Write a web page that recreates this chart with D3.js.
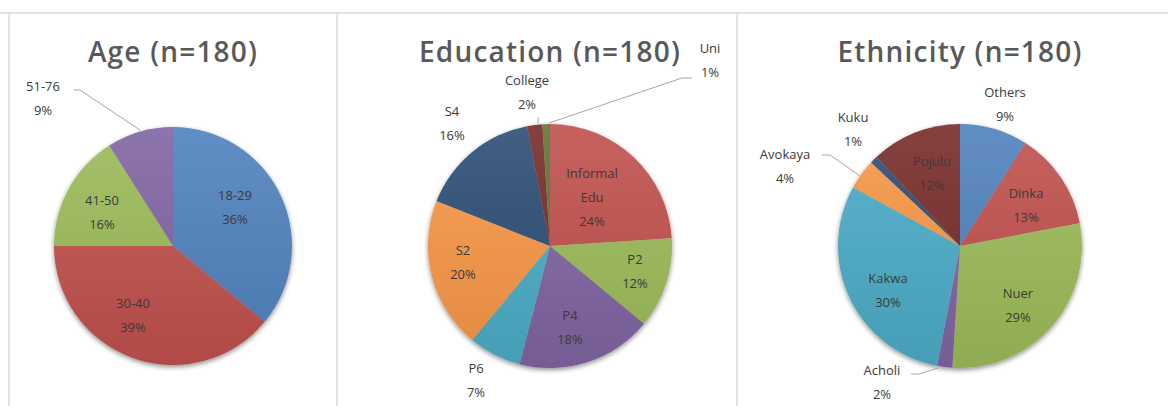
<!DOCTYPE html>
<html>
<head>
<meta charset="utf-8">
<style>
  body { margin: 0; background: #fff; }
  svg text { font-family: "Open Sans", "Noto Sans", sans-serif; }
  .title { font-size: 28px; font-weight: 600; letter-spacing: 1.2px; fill: #595959; text-anchor: middle; }
  .lbl { font-size: 13px; fill: #3a3a3a; text-anchor: middle; }
  .frame { stroke: #e2e2e2; stroke-width: 2px; }
  .leader { stroke: #a6a6a6; stroke-width: 1px; fill: none; }
</style>
</head>
<body>
<div id="chart"></div>
<script src="https://cdn.jsdelivr.net/npm/d3@7"></script>
<script>
// ---- data ----
var ageCats = ["18-29", "30-40", "41-50", "51-76"];
var ageVals = [36, 39, 16, 9];
var ageCols = ["#4f81bd", "#c0504d", "#9bbb59", "#8064a2"];

// first Excel series slot (blue) holds 0 in the source, so it is left out
var eduCats = ["Informal Edu", "P2", "P4", "P6", "S2", "S4", "College", "Uni"];
var eduVals = [24, 12, 18, 7, 20, 16, 2, 1];
var eduCols = ["#c0504d", "#9bbb59", "#8064a2", "#4bacc6", "#f79646", "#2c4d75", "#772c2a", "#5f7530"];

var ethCats = ["Others", "Dinka", "Nuer", "Acholi", "Kakwa", "Avokaya", "Kuku", "Pojulu"];
var ethVals = [9, 13, 29, 2, 30, 4, 1, 12];
var ethCols = ["#4f81bd", "#c0504d", "#9bbb59", "#8064a2", "#4bacc6", "#f79646", "#2c4d75", "#772c2a"];

var W = 1168, H = 406;

var svg = d3.select("#chart").append("svg")
    .attr("width", W)
    .attr("height", H);

var defs = svg.append("defs");

// soft drop shadow under each pie
var f = defs.append("filter").attr("id", "shadow")
    .attr("x", "-20%").attr("y", "-20%").attr("width", "140%").attr("height", "140%");
f.append("feGaussianBlur").attr("in", "SourceAlpha").attr("stdDeviation", 2.5).attr("result", "b");
f.append("feOffset").attr("in", "b").attr("dx", 0).attr("dy", 2).attr("result", "o");
f.append("feComponentTransfer").attr("in", "o").attr("result", "s")
  .append("feFuncA").attr("type", "linear").attr("slope", 0.45);
var fm = f.append("feMerge");
fm.append("feMergeNode").attr("in", "s");
fm.append("feMergeNode").attr("in", "SourceGraphic");

// panel frames
svg.append("line").classed("frame", true).attr("x1", 0).attr("x2", W).attr("y1", 13).attr("y2", 13);
[9, 337, 737].forEach(function (x) {
  svg.append("line").classed("frame", true)
    .attr("x1", x).attr("x2", x).attr("y1", 13).attr("y2", H);
});

function drawPie(opt) {
  var g = svg.append("g").attr("transform", "translate(" + opt.cx + "," + opt.cy + ")");

  g.append("text").classed("title", true)
    .attr("x", 0)
    .attr("y", 52 - opt.cy + 10)
    .text(opt.title);

  var items = opt.cats.map(function (c, i) {
    return { cat: c, val: opt.vals[i], col: opt.cols[i], i: i };
  });

  var pie = d3.pie().sort(null).value(function (d) { return d.val; });
  var arc = d3.arc().innerRadius(0).outerRadius(opt.r);
  var arcs = pie(items);

  // per-slice vertical gradients, lighter on top (group coords)
  arcs.forEach(function (a) {
    var gr = defs.append("linearGradient")
        .attr("id", opt.id + "g" + a.data.i)
        .attr("gradientUnits", "userSpaceOnUse")
        .attr("x1", 0).attr("y1", -opt.r)
        .attr("x2", 0).attr("y2", opt.r);
    gr.append("stop").attr("offset", "0%").attr("stop-color", d3.interpolateRgb(a.data.col, "#fff")(0.1));
    gr.append("stop").attr("offset", "100%").attr("stop-color", d3.interpolateRgb(a.data.col, "#000")(0.08));
  });

  var pg = g.append("g").attr("filter", "url(#shadow)");
  pg.selectAll("path")
    .data(arcs)
    .enter().append("path")
      .attr("d", arc)
      .attr("fill", function (d) { return "url(#" + opt.id + "g" + d.data.i + ")"; });

  // labels
  opt.labels.forEach(function (L, k) {
    var a = arcs[k];
    var t = g.append("text").classed("lbl", true)
        .attr("x", L.x - opt.cx)
        .attr("y", L.y - opt.cy);
    var lines = L.lines || [a.data.cat];
    lines.concat([a.data.val + "%"]).forEach(function (s, j) {
      t.append("tspan").attr("x", L.x - opt.cx).attr("dy", j === 0 ? 0 : 24).text(s);
    });
    if (L.leader) {
      g.append("polyline").classed("leader", true)
        .attr("points", L.leader.map(function (p) {
          return (p[0] - opt.cx) + "," + (p[1] - opt.cy);
        }).join(" "));
    }
  });
}

drawPie({
  id: "age", title: "Age (n=180)", cx: 173, cy: 246, r: 119,
  cats: ageCats, vals: ageVals, cols: ageCols,
  labels: [
    { x: 235, y: 200 },
    { x: 133, y: 308 },
    { x: 102, y: 205 },
    { x: 43, y: 91, leader: [[74, 90], [80, 90], [140, 130]] }
  ]
});

drawPie({
  id: "edu", title: "Education (n=180)", cx: 550, cy: 246, r: 122,
  cats: eduCats, vals: eduVals, cols: eduCols,
  labels: [
    { x: 592, y: 178, lines: ["Informal", "Edu"] },
    { x: 635, y: 264 },
    { x: 570, y: 320 },
    { x: 476, y: 373 },
    { x: 463, y: 255 },
    { x: 452, y: 116 },
    { x: 527, y: 85, leader: [[538, 117], [538, 124]] },
    { x: 710, y: 53, leader: [[692, 78], [682, 78], [549, 123]] }
  ]
});

drawPie({
  id: "eth", title: "Ethnicity (n=180)", cx: 960, cy: 246, r: 122,
  cats: ethCats, vals: ethVals, cols: ethCols,
  labels: [
    { x: 1005, y: 97 },
    { x: 1026, y: 198 },
    { x: 1018, y: 298 },
    { x: 882, y: 375, leader: [[911, 374], [919, 374], [938, 368]] },
    { x: 888, y: 283 },
    { x: 785, y: 159, leader: [[822, 155], [830, 155], [860, 176]] },
    { x: 853, y: 122 },
    { x: 932, y: 166 }
  ]
});
</script>
</body>
</html>
